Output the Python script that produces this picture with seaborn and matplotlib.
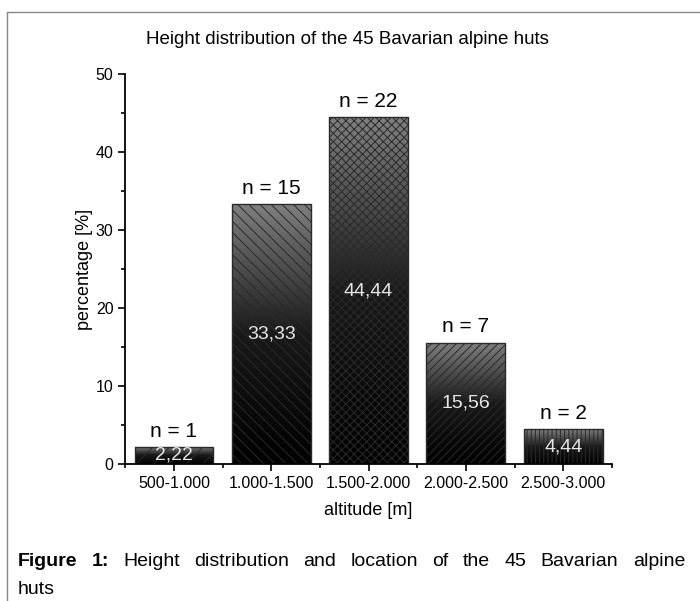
import numpy as np
import pandas as pd
import matplotlib
matplotlib.use("Agg")
import matplotlib.pyplot as plt
import seaborn as sns
from matplotlib.colors import LinearSegmentedColormap
from matplotlib.lines import Line2D
from matplotlib.ticker import MultipleLocator, FixedLocator

altitudes = ["500-1.000", "1.000-1.500", "1.500-2.000", "2.000-2.500", "2.500-3.000"]
percent = [2.22, 33.33, 44.44, 15.56, 4.44]
counts = [1, 15, 22, 7, 2]
hatches = ["//", "\\\\\\", "xxxx", "////", "||||"]

sns.set_style("white")
plt.rcParams["font.family"] = ["Liberation Sans", "DejaVu Sans"]
plt.rcParams["hatch.linewidth"] = 0.7
for k in ["text.color", "axes.labelcolor", "xtick.color", "ytick.color"]:
    plt.rcParams[k] = "black"

df = pd.DataFrame({"altitude": altitudes, "percent": percent})

fig = plt.figure(figsize=(7, 6.01), dpi=100)
ax = fig.add_axes([0.179, 0.228, 0.695, 0.649])

sns.barplot(data=df, x="altitude", y="percent", ax=ax, width=0.81,
            color="none", edgecolor="#2a2a2a", linewidth=1.0)

cmap = LinearSegmentedColormap.from_list("g", ["#000000", "#1a1a1a", "#808080"])
grad = np.linspace(0, 1, 256).reshape(-1, 1)
for patch, h in zip(ax.patches, hatches):
    x0, y0 = patch.get_x(), patch.get_y()
    w, ht = patch.get_width(), patch.get_height()
    im = ax.imshow(grad, cmap=cmap, origin="lower", aspect="auto",
                   extent=[x0, x0 + w, y0, y0 + ht], zorder=1)
    im.set_clip_path(patch)
    patch.set_facecolor("none")
    patch.set_hatch(h)
    patch.set_zorder(2)

for i, (p, n) in enumerate(zip(percent, counts)):
    ax.text(i, p + 2.0, f"n = {n}", ha="center", va="center", fontsize=15)
    ax.text(i, p / 2, f"{p:.2f}".replace(".", ","), ha="center", va="center",
            fontsize=14, color="#e6e6e6", zorder=3)

ax.set_xlim(-0.5, 4.5)
ax.set_ylim(0, 50)
ax.yaxis.set_major_locator(MultipleLocator(10))
ax.yaxis.set_minor_locator(MultipleLocator(5))
ax.xaxis.set_minor_locator(FixedLocator([-0.5, 0.5, 1.5, 2.5, 3.5, 4.5]))
ax.tick_params(axis="both", which="major", direction="out", length=5, width=1.2,
               labelsize=11.5, bottom=True, left=True)
ax.tick_params(axis="both", which="minor", direction="out", length=3, width=1.2,
               bottom=True, left=True)
for s in ["top", "right"]:
    ax.spines[s].set_visible(False)
for s in ["left", "bottom"]:
    ax.spines[s].set_color("black")
    ax.spines[s].set_linewidth(1.3)

ax.set_xlabel("altitude [m]", fontsize=13, labelpad=8)
ax.set_ylabel("percentage [%]", fontsize=13, labelpad=2)

fig.text(0.496, 1 - 40 / 601, "Height distribution of the 45 Bavarian alpine huts",
         ha="center", va="center", fontsize=13.5)

# frame of the figure panel
fig.add_artist(Line2D([7 / 700, 7 / 700], [0, 1 - 12 / 601], transform=fig.transFigure,
                      color="#888888", linewidth=1))
fig.add_artist(Line2D([7 / 700, 1], [1 - 12 / 601, 1 - 12 / 601], transform=fig.transFigure,
                      color="#888888", linewidth=1))

# caption, first line justified between x=18 and x=685
cap_y = 1 - 562 / 601
words = [("Figure", "bold"), ("1:", "bold")] + [
    (w, "normal") for w in "Height distribution and location of the 45 Bavarian alpine".split()]
fig.canvas.draw()
rend = fig.canvas.get_renderer()
arts = []
for w, wt in words:
    t = fig.text(0, cap_y, w, fontsize=14, fontweight=wt, va="center")
    arts.append(t)
widths = [t.get_window_extent(rend).width for t in arts]
gap = (685 - 18 - sum(widths)) / (len(words) - 1)
x = 18
for t, wd in zip(arts, widths):
    t.set_x(x / 700)
    x += wd + gap
fig.text(18 / 700, 1 - 590 / 601, "huts", fontsize=14, va="center")

fig.savefig("out.png", dpi=100)
